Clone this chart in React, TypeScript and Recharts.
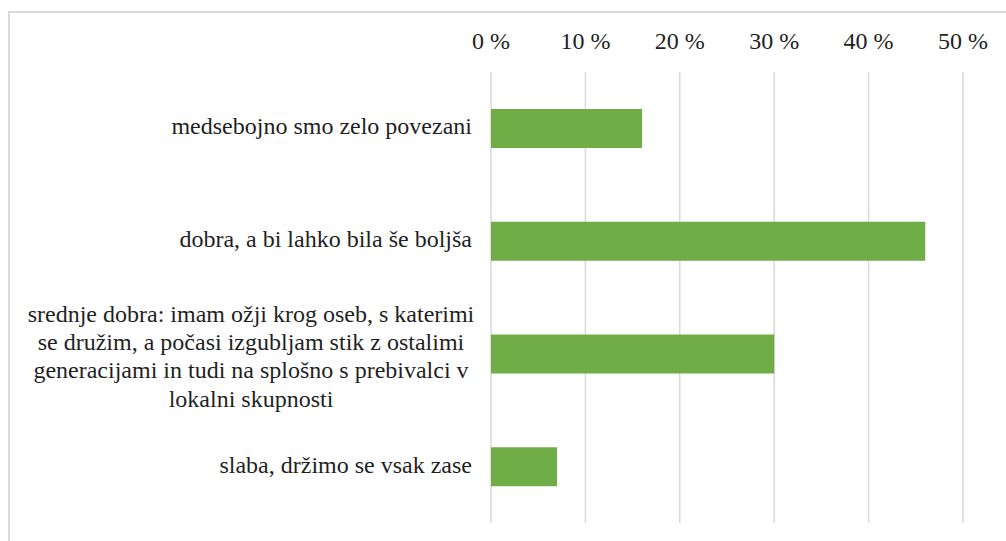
import { BarChart, Bar, XAxis, YAxis, CartesianGrid } from 'recharts';

const categories = [
  'medsebojno smo zelo povezani',
  'dobra, a bi lahko bila še boljša',
  'srednje dobra: imam ožji krog oseb, s katerimi\nse družim, a počasi izgubljam stik z ostalimi\ngeneracijami in tudi na splošno s prebivalci v\nlokalni skupnosti',
  'slaba, držimo se vsak zase',
];
const shares = [16, 46, 30, 7];
const xTicks = [0, 10, 20, 30, 40, 50];

const data = categories.map((name, i) => ({ name, value: shares[i] }));

const FONT = '"Liberation Serif", "Times New Roman", serif';
const TEXT = '#1f1f1f';
const textStyle = { fontFamily: FONT, fontSize: 24, fill: TEXT };

function XTick({ x, payload }: any) {
  return (
    <text x={x} y={49} textAnchor="middle" style={textStyle}>
      {`${payload.value} %`}
    </text>
  );
}

function YTick({ y, payload }: any) {
  const lines = String(payload.value).split('\n');
  if (lines.length === 1) {
    return (
      <text x={472} y={y + 6} textAnchor="end" style={textStyle}>
        {lines[0]}
      </text>
    );
  }
  // wrapped label: centred lines, like Excel does
  const step = 28.3;
  const first = y - 32;
  return (
    <text textAnchor="middle" style={textStyle}>
      {lines.map((l, i) => (
        <tspan key={i} x={251} y={first + i * step}>{l}</tspan>
      ))}
    </text>
  );
}

export default function App() {
  return (
    <div style={{ position: 'fixed', left: 0, top: 0, width: 1006, height: 541, background: '#fff', overflow: 'hidden' }}>
      <div
        style={{
          position: 'absolute', left: 8, top: 11, width: 1020, height: 560,
          border: '2px solid #d9d9d9', boxSizing: 'border-box',
        }}
      />
      <div style={{ position: 'absolute', left: 0, top: 0 }}>
        <BarChart
          width={1006}
          height={541}
          data={data}
          layout="vertical"
          margin={{ top: 0, right: 43, left: 0, bottom: 18 }}
          barCategoryGap="32%"
        >
          <CartesianGrid horizontal={false} stroke="#d9d9d9" strokeWidth={1.5} />
          <XAxis
            type="number"
            orientation="top"
            domain={[0, 50]}
            ticks={xTicks}
            height={72}
            axisLine={false}
            tickLine={false}
            tick={<XTick />}
            interval={0}
          />
          <YAxis
            type="category"
            dataKey="name"
            width={491}
            axisLine={false}
            tickLine={false}
            tick={<YTick />}
            interval={0}
          />
          <Bar dataKey="value" fill="#70ad47" barSize={39} isAnimationActive={false} />
        </BarChart>
      </div>
    </div>
  );
}
